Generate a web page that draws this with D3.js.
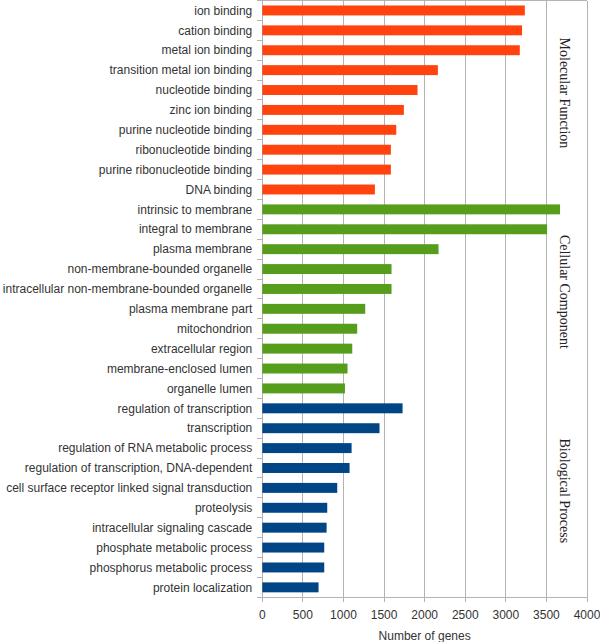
<!DOCTYPE html>
<html><head><meta charset="utf-8">
<script src="https://cdn.jsdelivr.net/npm/d3@7/dist/d3.min.js"></script>
<style>body{margin:0;background:#fff}svg{display:block}</style>
</head><body>
<script>
const mfTerms = ["ion binding","cation binding","metal ion binding","transition metal ion binding","nucleotide binding","zinc ion binding","purine nucleotide binding","ribonucleotide binding","purine ribonucleotide binding","DNA binding"];
const mfValues = [3234,3200,3172,2163,1912,1744,1650,1584,1584,1387];
const ccTerms = ["intrinsic to membrane","integral to membrane","plasma membrane","non-membrane-bounded organelle","intracellular non-membrane-bounded organelle","plasma membrane part","mitochondrion","extracellular region","membrane-enclosed lumen","organelle lumen"];
const ccValues = [3668,3508,2171,1592,1592,1268,1169,1108,1050,1018];
const bpTerms = ["regulation of transcription","transcription","regulation of RNA metabolic process","regulation of transcription, DNA-dependent","cell surface receptor linked signal transduction","proteolysis","intracellular signaling cascade","phosphate metabolic process","phosphorus metabolic process","protein localization"];
const bpValues = [1728,1444,1100,1075,923,800,792,763,763,693];
const groupNames = ["Molecular Function","Cellular Component","Biological Process"];
const groupColors = ["#ff420e","#579d1c","#004586"];
const xTicks = [0,500,1000,1500,2000,2500,3000,3500,4000];
const xTitle = "Number of genes";

(function(){
const groups = [[mfTerms,mfValues],[ccTerms,ccValues],[bpTerms,bpValues]];
const rows = [];
groups.forEach(([t,v],gi)=>t.forEach((name,i)=>rows.push({name,value:v[i],g:gi})));

const W=600,H=642;
const pL=262.3,pR=587,pT=0.5,pB=597.3;
const svg=d3.select("body").append("svg").attr("width",W).attr("height",H);
const x=d3.scaleLinear().domain([0,4000]).range([pL,pR]);
const y=d3.scaleBand().domain(rows.map((d,i)=>i)).range([pT,pB]).paddingInner(0.5).paddingOuter(0.25);
const step=y.step();
const grid="#b3b3b3";

svg.append("g").selectAll("line").data(xTicks).join("line")
  .attr("x1",d=>x(d)).attr("x2",d=>x(d)).attr("y1",pT).attr("y2",pB+5)
  .attr("stroke",grid).attr("stroke-width",1).attr("shape-rendering","crispEdges");
svg.append("line").attr("x1",pL).attr("x2",pR).attr("y1",pT).attr("y2",pT)
  .attr("stroke",grid).attr("shape-rendering","crispEdges");
svg.append("line").attr("x1",pL-5).attr("x2",pR).attr("y1",pB).attr("y2",pB)
  .attr("stroke",grid).attr("shape-rendering","crispEdges");
svg.append("line").attr("x1",pL).attr("x2",pL).attr("y1",pT).attr("y2",pB)
  .attr("stroke",grid).attr("shape-rendering","crispEdges");
svg.append("g").selectAll("line").data(d3.range(rows.length+1)).join("line")
  .attr("x1",pL-5).attr("x2",pL).attr("y1",i=>pT+i*step).attr("y2",i=>pT+i*step)
  .attr("stroke",grid).attr("shape-rendering","crispEdges");

svg.append("g").selectAll("rect").data(rows).join("rect")
  .attr("x",x(0)).attr("y",(d,i)=>y(i)).attr("width",d=>x(d.value)-x(0)).attr("height",y.bandwidth())
  .attr("fill",d=>groupColors[d.g]);

svg.append("g").selectAll("text").data(rows).join("text")
  .attr("x",pL-10).attr("y",(d,i)=>y(i)+y.bandwidth()/2).attr("dy","0.35em")
  .attr("text-anchor","end").attr("font-family","Liberation Sans, Arial, sans-serif")
  .attr("font-size",12).attr("fill","#333").text(d=>d.name);

svg.append("g").selectAll("text").data(xTicks).join("text")
  .attr("x",d=>x(d)).attr("y",pB+17).attr("dy","0.35em").attr("text-anchor","middle")
  .attr("font-family","Liberation Sans, Arial, sans-serif").attr("font-size",12).attr("fill","#333").text(d=>d);
svg.append("text").attr("x",(x(0)+x(4000))/2).attr("y",636).attr("dy","0.35em").attr("text-anchor","middle")
  .attr("font-family","Liberation Sans, Arial, sans-serif").attr("font-size",12).attr("fill","#333").text(xTitle);

groupNames.forEach((name,gi)=>{
  const cy=pT+(gi*10+5)*step-7;
  const cx=565;
  svg.append("text").attr("transform",`translate(${cx},${cy}) rotate(90)`)
    .attr("text-anchor","middle").attr("dy","0.35em")
    .attr("font-family","Liberation Serif, Times New Roman, serif").attr("font-size",14).attr("fill","#222").text(name);
});
})();
</script>
</body></html>
